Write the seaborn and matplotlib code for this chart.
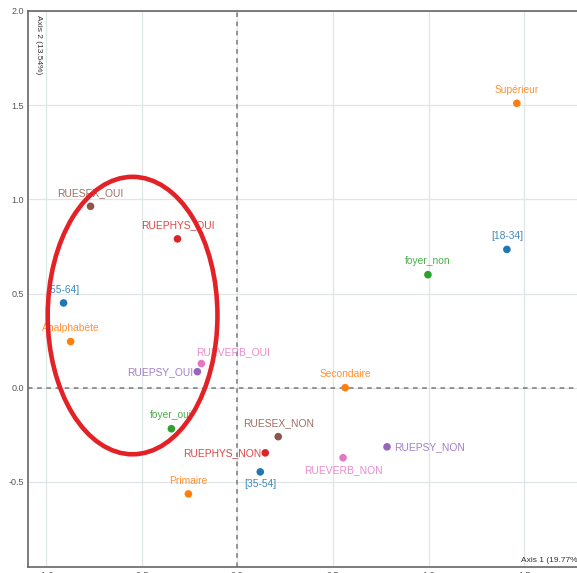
import matplotlib
matplotlib.use("Agg")
import matplotlib.pyplot as plt
import seaborn as sns
import pandas as pd
from matplotlib.patches import Ellipse

# ---- data ----
labels = ["Supérieur", "[18-34]", "foyer_non", "RUESEX_OUI", "RUEPHYS_OUI",
          "[55-64]", "Analphabète", "RUEVERB_OUI", "RUEPSY_OUI", "Secondaire",
          "foyer_oui", "RUESEX_NON", "RUEPHYS_NON", "RUEVERB_NON", "RUEPSY_NON",
          "[35-54]", "Primaire"]
axis1 = [1.462, 1.41, 0.997, -0.768, -0.313,
         -0.909, -0.872, -0.188, -0.209, 0.564,
         -0.345, 0.214, 0.146, 0.553, 0.783,
         0.12, -0.256]
axis2 = [1.51, 0.734, 0.60, 0.963, 0.79,
         0.45, 0.245, 0.128, 0.085, 0.0,
         -0.218, -0.26, -0.346, -0.372, -0.314,
         -0.447, -0.564]
groups = ["educ", "age", "foyer", "ruesex", "ruephys",
          "age", "educ", "rueverb", "ruepsy", "educ",
          "foyer", "ruesex", "ruephys", "rueverb", "ruepsy",
          "age", "educ"]
# label placement: 'above', 'below', 'left', 'right', 'aboveright'
placement = ["above", "above", "above", "above", "above",
             "above", "above", "aboveright", "left", "above",
             "above", "above", "left", "below", "right",
             "below", "above"]

palette = {"age": "#1f77b4", "educ": "#ff7f0e", "foyer": "#2ca02c",
           "ruephys": "#d62728", "ruepsy": "#9467bd", "ruesex": "#8c564b",
           "rueverb": "#e377c2"}

df = pd.DataFrame({"label": labels, "Axis1": axis1, "Axis2": axis2, "group": groups})

sns.set_style("white")
plt.rcParams["font.family"] = ["Liberation Sans", "DejaVu Sans"]
plt.rcParams["axes.unicode_minus"] = False

fig = plt.figure(figsize=(5.77, 5.73), dpi=100)
ax = fig.add_axes([28/577, 6/573, 563/577, 556/573])

ax.set_xlim(-1.095, 1.85)
ax.set_ylim(-0.952, 2.0)
ax.set_xticks([-1.0, -0.5, 0.0, 0.5, 1.0, 1.5])
ax.set_yticks([-0.5, 0.0, 0.5, 1.0, 1.5, 2.0])
ax.grid(True, color="#e0e6e8", linewidth=0.9)
ax.axhline(0, color="#7a7a7a", linestyle=(0, (3, 3)), linewidth=1.1, zorder=1)
ax.axvline(0, color="#7a7a7a", linestyle=(0, (3, 3)), linewidth=1.1, zorder=1)

sns.scatterplot(data=df, x="Axis1", y="Axis2", hue="group", palette=palette,
                s=30, edgecolor="none", legend=False, ax=ax, zorder=3)

for lab, x, y, g, p in zip(labels, axis1, axis2, groups, placement):
    c = palette[g]
    kw = dict(fontsize=7.4, color=c, alpha=0.85, zorder=4)
    if p == "above":
        ax.annotate(lab, (x, y), xytext=(0, 6), textcoords="offset points",
                    ha="center", va="bottom", **kw)
    elif p == "below":
        ax.annotate(lab, (x, y), xytext=(0, -5), textcoords="offset points",
                    ha="center", va="top", **kw)
    elif p == "left":
        ax.annotate(lab, (x, y), xytext=(-3, 0), textcoords="offset points",
                    ha="right", va="center", **kw)
    elif p == "right":
        ax.annotate(lab, (x, y), xytext=(5, 0), textcoords="offset points",
                    ha="left", va="center", **kw)
    else:
        ax.annotate(lab, (x, y), xytext=(-4, 5), textcoords="offset points",
                    ha="left", va="bottom", **kw)

ell = Ellipse((-0.548, 0.383), width=0.888, height=1.473, angle=0,
              fill=False, edgecolor="#e32227", linewidth=3.3, zorder=5)
ax.add_patch(ell)

ax.set_xlabel("")
ax.set_ylabel("")
ax.text(0.012, 0.993, "Axis 2 (13.54%)", transform=ax.transAxes,
        rotation=270, ha="left", va="top", fontsize=6, color="#333333")
ax.text(0.875, 0.006, "Axis 1 (19.77%)", transform=ax.transAxes,
        ha="left", va="bottom", fontsize=6, color="#333333")

ax.tick_params(axis="both", length=0, labelsize=6.5, colors="#555555", pad=3)
for side in ["left", "bottom", "top"]:
    ax.spines[side].set_color("#666666")
    ax.spines[side].set_linewidth(1.2)
ax.spines["right"].set_visible(False)

fig.savefig("out.png", dpi=100)
